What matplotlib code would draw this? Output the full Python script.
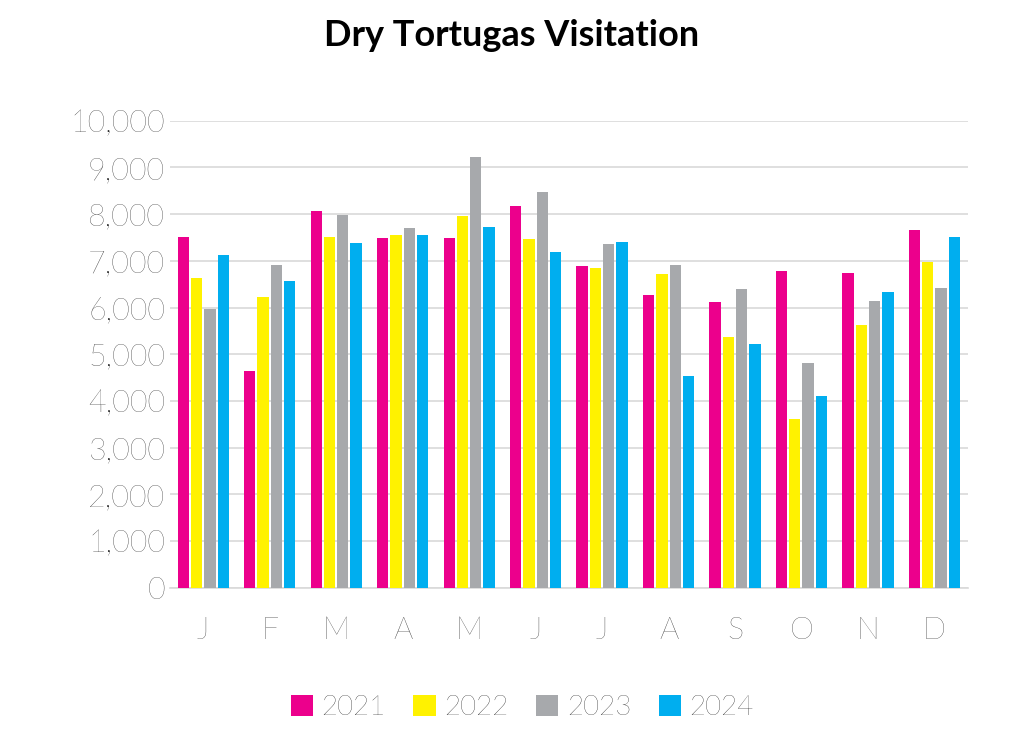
import numpy as np
import matplotlib.pyplot as plt
from matplotlib.ticker import FuncFormatter

months = ["J", "F", "M", "A", "M", "J", "J", "A", "S", "O", "N", "D"]
v2021 = [7520, 4640, 8060, 7480, 7490, 8180, 6880, 6270, 6110, 6780, 6730, 7650]
v2022 = [6630, 6220, 7520, 7560, 7950, 7470, 6850, 6720, 5360, 3610, 5620, 6970]
v2023 = [5960, 6900, 7990, 7700, 9230, 8480, 7360, 6900, 6390, 4810, 6140, 6420]
v2024 = [7130, 6560, 7380, 7560, 7720, 7190, 7400, 4540, 5220, 4110, 6330, 7520]
years = ["2021", "2022", "2023", "2024"]
colors = ["#EC008C", "#FFF200", "#A7A9AC", "#00AEEF"]

plt.rcParams["font.family"] = ["Lato", "DejaVu Sans"]

fig = plt.figure(figsize=(10.24, 7.45), dpi=100)
ax = fig.add_axes([0.166, 0.211, 0.779, 0.627])

x = np.arange(len(months))
w = 0.2
for i, (vals, lab, c) in enumerate(zip([v2021, v2022, v2023, v2024], years, colors)):
    ax.bar(x + (i - 1.5) * w, vals, width=0.17, color=c, label=lab, zorder=3)

ax.set_ylim(0, 10000)
ax.set_xlim(-0.5, len(months) - 0.5)
ax.set_yticks(range(0, 10001, 1000))
ax.yaxis.set_major_formatter(FuncFormatter(lambda v, p: f"{int(v):,}"))
ax.grid(axis="y", color="#d9d9d9", linewidth=1.2, zorder=0)
ax.set_xticks(x)
ax.set_xticklabels(months)
ax.tick_params(axis="both", length=0, labelsize=22, colors="#222222")
ax.tick_params(axis="x", pad=20)
for lbl in ax.get_xticklabels() + ax.get_yticklabels():
    lbl.set_fontweight("light")
for s in ["top", "right", "left"]:
    ax.spines[s].set_visible(False)
ax.spines["bottom"].set_color("#d9d9d9")
ax.spines["bottom"].set_linewidth(1.2)

fig.suptitle("Dry Tortugas Visitation", fontsize=26, fontweight="bold", y=0.975)
leg = fig.legend(loc="lower center", ncol=4, frameon=False, fontsize=20,
                 bbox_to_anchor=(0.51, 0.0), handlelength=0.8, handleheight=0.8,
                 columnspacing=1.0, handletextpad=0.3)
for t in leg.get_texts():
    t.set_fontweight("light")

fig.savefig("out.png", dpi=100)
